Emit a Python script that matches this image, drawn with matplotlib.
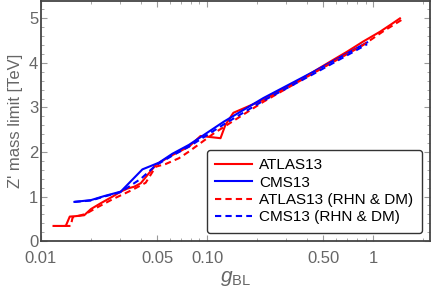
import matplotlib
matplotlib.use("Agg")
import matplotlib.pyplot as plt
from matplotlib.ticker import FixedLocator, NullFormatter

plt.rcParams['font.family'] = ['Liberation Sans', 'DejaVu Sans']
plt.rcParams['mathtext.fontset'] = 'custom'
plt.rcParams['mathtext.rm'] = 'Liberation Sans'
plt.rcParams['mathtext.it'] = 'Liberation Sans:italic'

# ATLAS13 (solid red)
atlas_g = [0.0119, 0.0141, 0.0149, 0.0162, 0.0182, 0.0200, 0.0229, 0.0270, 0.0302,
           0.0332, 0.0364, 0.0399, 0.0491, 0.0526, 0.0618, 0.0778, 0.0914,
           0.1205, 0.129, 0.144, 0.218, 0.348, 0.436, 0.552, 0.695, 0.871, 1.10,
           1.265, 1.45]
atlas_m = [0.34, 0.34, 0.55, 0.56, 0.58, 0.72, 0.85, 1.00, 1.11,
           1.18, 1.22, 1.30, 1.71, 1.78, 1.93, 2.12, 2.36,
           2.31, 2.61, 2.88, 3.17, 3.58, 3.80, 4.03, 4.25, 4.48, 4.70,
           4.85, 5.00]

# CMS13 (solid blue)
cms_g = [0.0159, 0.0200, 0.0240, 0.0302, 0.0408, 0.0513, 0.0618, 0.0778, 0.126,
         0.218, 0.436, 0.92]
cms_m = [0.88, 0.92, 1.01, 1.11, 1.61, 1.76, 1.96, 2.16, 2.68,
         3.21, 3.80, 4.46]

# ATLAS13 (RHN & DM) (dashed red)
atlas_dm_g = [0.0138, 0.0151, 0.0155, 0.0186, 0.0214, 0.0270, 0.0355, 0.0427,
              0.0491, 0.0563, 0.0677, 0.0778, 0.110, 0.219, 0.437, 0.87, 1.14, 1.49]
atlas_dm_m = [0.34, 0.34, 0.53, 0.61, 0.74, 0.94, 1.15, 1.31,
              1.67, 1.73, 1.86, 2.01, 2.42, 3.13, 3.77, 4.40, 4.70, 4.97]

# CMS13 (RHN & DM) (dashed blue)
cms_dm_g = [0.0159, 0.0200, 0.0240, 0.0302, 0.0400, 0.0491, 0.0618, 0.0778,
            0.126, 0.218, 0.436, 0.92]
cms_dm_m = [0.88, 0.91, 1.00, 1.10, 1.40, 1.70, 1.92, 2.12,
            2.62, 3.15, 3.75, 4.42]

xticks = [0.01, 0.05, 0.10, 0.50, 1]
xticklabels = ["0.01", "0.05", "0.10", "0.50", "1"]
yticks = [0, 1, 2, 3, 4, 5]

fig = plt.figure(figsize=(4.32, 2.94), dpi=100)
ax = fig.add_axes([0.0949, 0.180, 0.9005, 0.8166])

lw = 1.5
ax.plot(atlas_g, atlas_m, color='#ff0000', lw=lw, label='ATLAS13')
ax.plot(cms_g, cms_m, color='#0000ff', lw=lw, label='CMS13')
ax.plot(atlas_dm_g, atlas_dm_m, color='#ff0000', lw=lw, ls=(0, (3, 2)), label='ATLAS13 (RHN & DM)')
ax.plot(cms_dm_g, cms_dm_m, color='#0000ff', lw=lw, ls=(0, (3, 2)), label='CMS13 (RHN & DM)')

ax.set_xscale('log')
ax.set_xlim(0.01, 2.2)
ax.set_ylim(0, 5.39)

ax.xaxis.set_major_locator(FixedLocator(xticks))
ax.set_xticklabels(xticklabels)
minor_x = [m * d for d in (0.01, 0.1, 1) for m in range(2, 10)]
minor_x = [v for v in minor_x if v not in xticks and v < 2.2]
ax.xaxis.set_minor_locator(FixedLocator(minor_x))
ax.xaxis.set_minor_formatter(NullFormatter())

ax.set_yticks(yticks)
ax.yaxis.set_minor_locator(FixedLocator([i * 0.2 for i in range(28) if i % 5 != 0]))

gray = '#666666'
for s in ax.spines.values():
    s.set_color('#444444')
    s.set_linewidth(1.3)
ax.tick_params(which='both', direction='in', top=True, right=True, colors='#999999',
               labelcolor=gray, labelsize=12)
ax.tick_params(which='major', length=4, width=0.8)
ax.tick_params(which='minor', length=2, width=0.6)
ax.tick_params(axis='x', pad=7)
ax.tick_params(axis='y', pad=2)

ax.set_xlabel(r'$g_{\mathrm{BL}}$', fontsize=15, color=gray, labelpad=2)
ax.set_ylabel("Z' mass limit [TeV]", fontsize=12, color=gray, labelpad=4)

leg = ax.legend(loc='lower right', bbox_to_anchor=(0.979, 0.035), fontsize=11,
                frameon=True, fancybox=True, handlelength=2.4, handletextpad=0.5,
                labelspacing=0.22, borderpad=0.55, borderaxespad=0.0)
leg.get_frame().set_edgecolor('#333333')
leg.get_frame().set_linewidth(1.0)
leg.get_frame().set_alpha(1)

fig.savefig('out.png', dpi=100)
